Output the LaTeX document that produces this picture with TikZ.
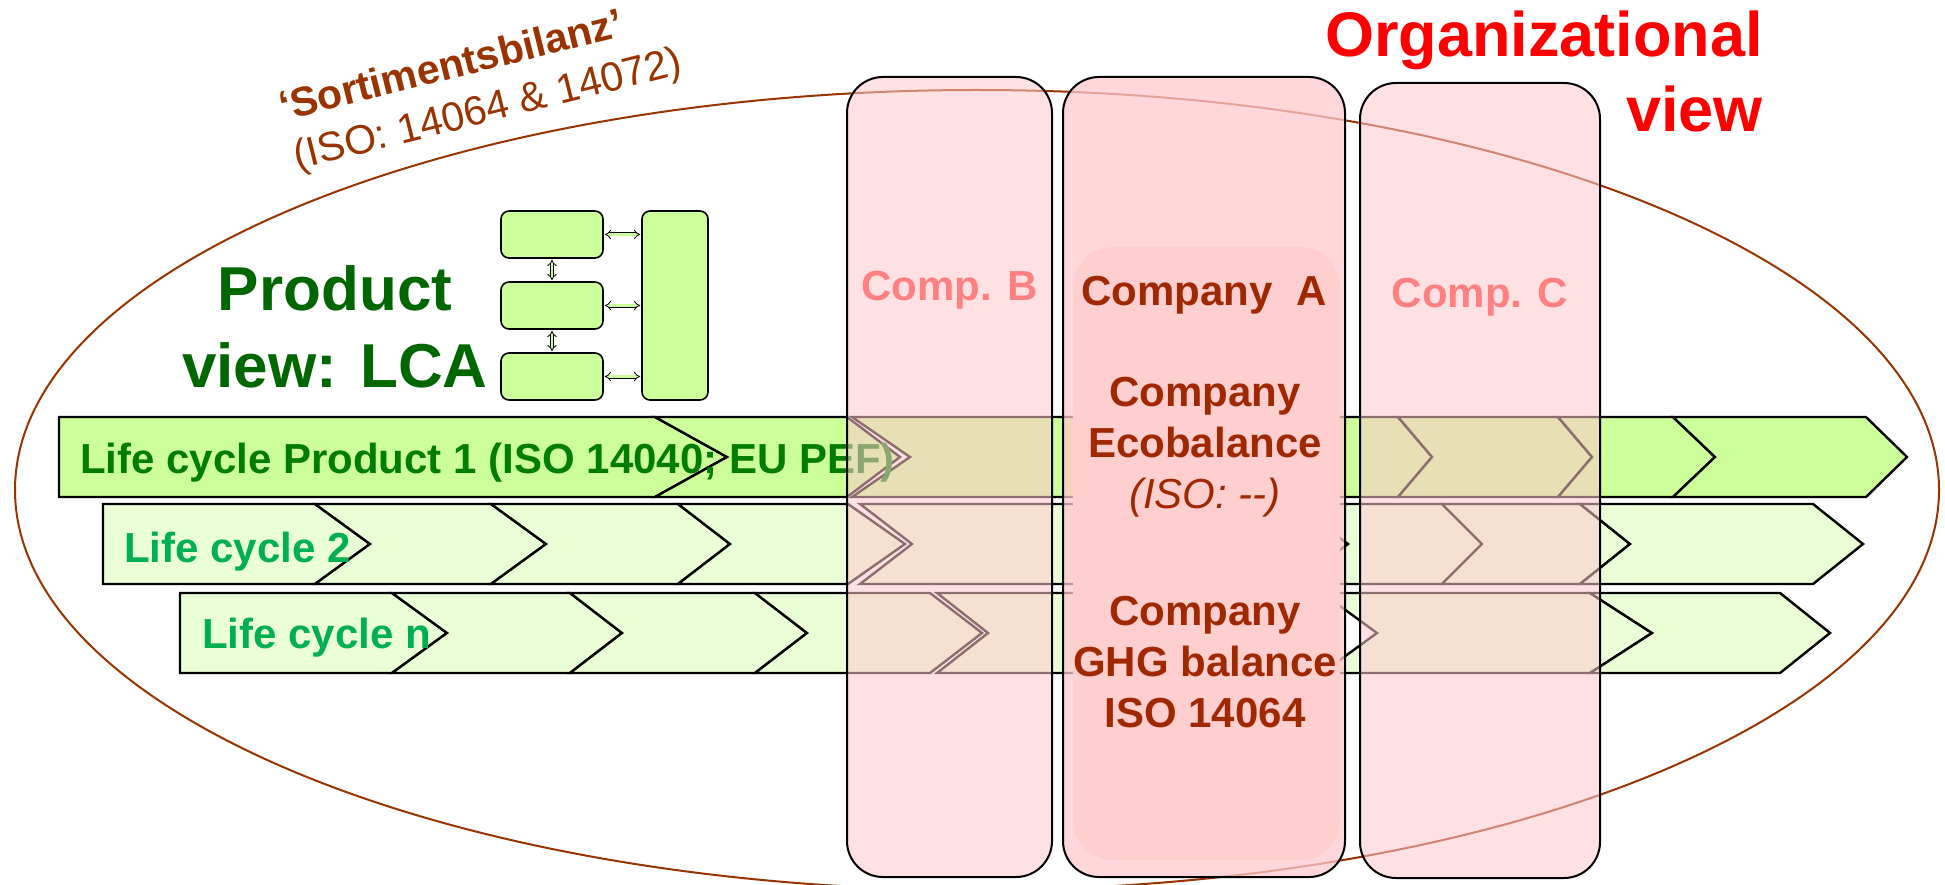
\documentclass[tikz,border=0pt]{standalone}
\usepackage{fontspec}
\setmainfont{Liberation Sans}
\usetikzlibrary{arrows.meta}

\definecolor{lcagreen}{RGB}{204,255,153}
\definecolor{palegreen}{RGB}{235,255,215}
\definecolor{brickred}{RGB}{153,51,0}
\definecolor{compred}{RGB}{160,40,0}
\definecolor{salmon}{RGB}{255,128,128}
\definecolor{darkgreen}{RGB}{0,102,0}
\definecolor{rowgreen}{RGB}{0,125,0}
\definecolor{officegreen}{RGB}{0,176,80}
\definecolor{boxpink}{RGB}{255,200,205}
\definecolor{innerpink}{RGB}{255,207,207}

% one chevron of a life cycle row: [fill]{x left}{x right}{y top}{notch depth}{tip depth}
\newcommand{\chev}[6][lcagreen]{%
  \filldraw[chevron, fill=#1] (#2,#4) -- (#3,#4) -- ({#3+#6},{#4+40}) -- (#3,{#4+80})
    -- (#2,{#4+80}) -- ({#2+#5},{#4+40}) -- cycle;}

\begin{document}
\begin{tikzpicture}[x=1pt, y=-1pt, line join=miter]
      \tikzstyle{chevron}=[draw=black, line width=2.4pt]
      \tikzstyle{lcabox}=[draw=black, line width=1.6pt, fill=lcagreen, rounded corners=8pt, inner sep=0pt]
      \tikzstyle{dbl}=[draw=black, line width=0.8pt, double=lcagreen, double distance=2.4pt, {Implies[length=4pt]}-{Implies[length=4pt]}, shorten >=1pt, shorten <=1pt]
      \tikzstyle{comp}=[draw=black, line width=2pt, rounded corners=36pt, fill=boxpink, fill opacity=0.55, inner sep=0pt]
      \tikzstyle{bigtext}=[font=\bfseries\fontsize{42}{51}\selectfont, inner sep=0pt]
      \useasboundingbox (0,0) rectangle (1945,885);

      \draw[brickred, line width=2pt] (977,490) ellipse [x radius=962pt, y radius=400pt];

      % small LCA scheme
      \node[lcabox, minimum width=102, minimum height=47] (step1) at (552,234.5) {};
      \node[lcabox, minimum width=102, minimum height=47] (step2) at (552,305.5) {};
      \node[lcabox, minimum width=102, minimum height=47] (step3) at (552,376.5) {};
      \node[lcabox, minimum width=66, minimum height=189] (lcaall) at (675,305.5) {};
      \path (step1) edge [dbl] (step2);
      \path (step2) edge [dbl] (step3);
      \path (step1.east) edge [dbl] (lcaall.west |- step1.east);
      \path (step2.east) edge [dbl] (lcaall.west |- step2.east);
      \path (step3.east) edge [dbl] (lcaall.west |- step3.east);

      % life cycle rows
      \chev{59}{655}{417}{0}{72}
      \chev{655}{847}{417}{72}{53}
      \chev{852}{1280}{417}{58}{40}
      \chev{1280}{1398}{417}{40}{34}
      \chev{1398}{1558}{417}{34}{34}
      \chev{1558}{1673}{417}{34}{42}
      \chev{1673}{1866}{417}{42}{41}

      \chev[palegreen]{103}{315}{504}{0}{55}
      \chev[palegreen]{315}{491}{504}{55}{55}
      \chev[palegreen]{491}{678}{504}{55}{52}
      \chev[palegreen]{678}{848}{504}{52}{57}
      \chev[palegreen]{860}{1295}{504}{52}{53}
      \chev[palegreen]{1295}{1442}{504}{53}{40}
      \chev[palegreen]{1442}{1580}{504}{40}{50}
      \chev[palegreen]{1580}{1813}{504}{50}{50}

      \chev[palegreen]{180}{392}{593}{0}{55}
      \chev[palegreen]{392}{570}{593}{55}{52}
      \chev[palegreen]{570}{755}{593}{52}{52}
      \chev[palegreen]{755}{930}{593}{52}{52}
      \chev[palegreen]{937}{1280}{593}{51}{55}
      \chev[palegreen]{1322}{1590}{593}{55}{62}
      \chev[palegreen]{1590}{1780}{593}{62}{50}

      \node[bigtext, text=rowgreen, anchor=base west] (cycle1) at (80,473) {Life cycle Product 1 (ISO 14040; EU PEF)};
      \node[bigtext, text=officegreen, anchor=base west] (cycle2) at (124,562) {Life cycle 2};
      \node[bigtext, text=officegreen, anchor=base west] (cyclen) at (202,648) {Life cycle n};

      \node[font=\bfseries\fontsize{62}{77}\selectfont, text=darkgreen, align=center, anchor=north, inner sep=0pt] (prodview) at (335,265) {Product\\view: LCA};
      \node[font=\bfseries\fontsize{41}{49}\selectfont, text=brickred, rotate=14, anchor=base west, inner sep=0pt] (sortiment) at (283,121) {‘Sortimentsbilanz’};
      \node[font=\fontsize{41}{49}\selectfont, text=brickred, rotate=14, anchor=base west, inner sep=0pt] (sortiso) at (297,170) {(ISO: 14064 \& 14072)};

      % companies
      \node[comp, minimum width=205, minimum height=800] (compb) at (949.5,477) {};
      \node[comp, fill opacity=0.75, minimum width=282, minimum height=800] (compa) at (1204,477) {};
      \node[fill=innerpink, rounded corners=40pt, minimum width=267, minimum height=613, inner sep=0pt] (compacore) at (1206.5,553.5) {};
      \node[comp, minimum width=240, minimum height=795] (compc) at (1480,480.5) {};

      \node[bigtext, text=salmon, anchor=base] (compbname) at (949.5,300) {Comp. B};
      \node[bigtext, text=salmon, anchor=base] (compcname) at (1480,307) {Comp. C};
      \node[bigtext, text=compred, anchor=base] (companame) at (1204,305) {Company~~A};
      \node[bigtext, text=compred, align=center, anchor=north] (ecobal) at (1205,377) {Company\\Ecobalance\\{\mdseries\itshape (ISO: -{}-)}};
      \node[bigtext, text=compred, align=center, anchor=north] (ghgbal) at (1205,596) {Company\\GHG balance\\ISO 14064};

      \node[font=\bfseries\fontsize{63}{75}\selectfont, text=red, align=right, anchor=north east, inner sep=0pt] (orgview) at (1763,11) {Organizational\\view};
\end{tikzpicture}
\end{document}
